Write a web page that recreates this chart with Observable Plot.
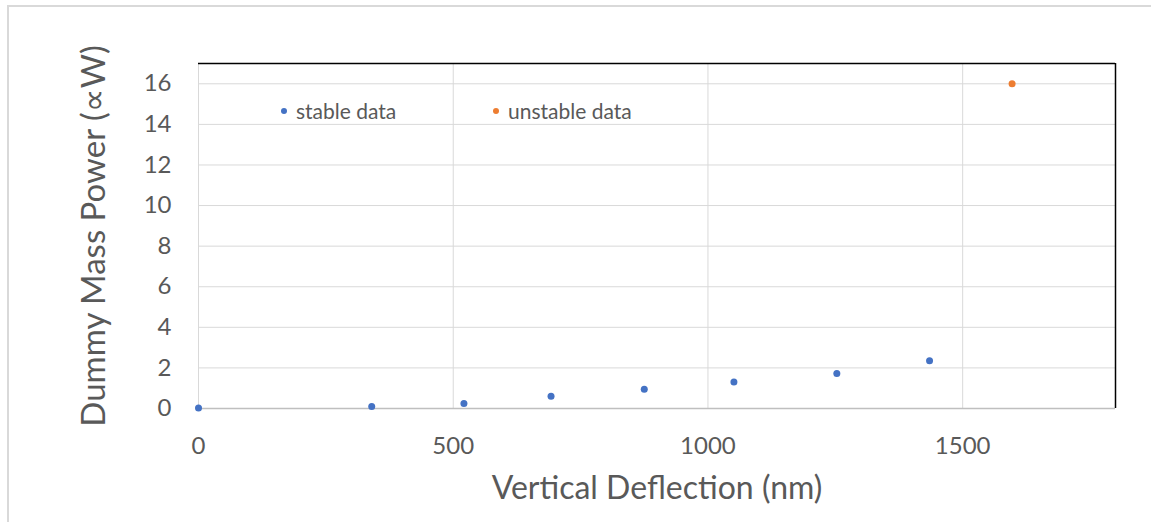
<!DOCTYPE html>
<html>
<head>
<meta charset="utf-8">
<script src="https://cdn.jsdelivr.net/npm/d3@7"></script>
<script src="https://cdn.jsdelivr.net/npm/@observablehq/plot@0.6"></script>
<style>
  html, body { margin: 0; padding: 0; background: #fff; }
  #wrap { position: relative; width: 1151px; height: 522px; overflow: hidden; font-family: Lato, "Open Sans", sans-serif; }
  #frame { position: absolute; left: 7px; top: 5px; width: 1200px; height: 600px; border-left: 2px solid #d9d9d9; border-top: 2px solid #d9d9d9; box-sizing: border-box; }
  #chart { position: absolute; left: 0; top: 0; }
  .legend { position: absolute; top: 98px; font-size: 21px; color: #595959; display: flex; align-items: center; }
  .legend .sw { width: 6px; height: 6px; border-radius: 50%; margin-right: 9px; }
</style>
</head>
<body>
<div id="wrap">
  <div id="frame"></div>
  <div id="chart"></div>
  <div class="legend" style="left:281px"><span class="sw" style="background:#4472C4"></span><span>stable data</span></div>
  <div class="legend" style="left:493px"><span class="sw" style="background:#ED7D31"></span><span>unstable data</span></div>
</div>
<script>
// Data
const stableDeflection = [0, 340, 521, 692, 875, 1051, 1253, 1435];
const stablePower      = [0.03, 0.1, 0.25, 0.6, 0.95, 1.3, 1.73, 2.35];
const unstableDeflection = [1597];
const unstablePower      = [16.0];
const xTicks = [0, 500, 1000, 1500];
const yTicks = [0, 2, 4, 6, 8, 10, 12, 14, 16];

const stable = stableDeflection.map((d, i) => ({x: d, y: stablePower[i]}));
const unstable = unstableDeflection.map((d, i) => ({x: d, y: unstablePower[i]}));

const chart = Plot.plot({
  width: 1151,
  height: 522,
  marginLeft: 198,
  marginRight: 36,
  marginTop: 63,
  marginBottom: 114,
  style: { fontFamily: "Lato, 'Open Sans', sans-serif", background: "transparent", overflow: "visible" },
  x: { domain: [0, 1800] },
  y: { domain: [0, 17] },
  marks: [
    Plot.gridX(xTicks.filter(d => d > 0), { stroke: "#d9d9d9", strokeOpacity: 1 }),
    Plot.gridY(yTicks.filter(d => d > 0), { stroke: "#d9d9d9", strokeOpacity: 1 }),
    Plot.ruleX([0], { stroke: "#d9d9d9" }),
    Plot.ruleY([0], { stroke: "#bfbfbf", strokeWidth: 1.5 }),
    Plot.ruleY([17], { stroke: "#000", strokeWidth: 1.5 }),
    Plot.ruleX([1800], { stroke: "#000", strokeWidth: 1.5 }),
    Plot.axisX({ ticks: xTicks, tickFormat: d => String(d), tickSize: 0, tickPadding: 28, fontSize: 24, color: "#595959", label: null }),
    Plot.axisY({ ticks: yTicks, tickFormat: d => String(d), tickSize: 0, tickPadding: 27, fontSize: 24, color: "#595959", label: null }),
    Plot.text(["Vertical Deflection (nm)"], { frameAnchor: "bottom", dy: 80, textAnchor: "middle", fontSize: 32, fill: "#595959", lineAnchor: "middle" }),
    Plot.text(["Dummy Mass Power (\u221DW)"], { frameAnchor: "left", dx: -104, textAnchor: "middle", rotate: -90, fontSize: 33, fill: "#595959", lineAnchor: "middle" }),
    Plot.dot(stable, { x: "x", y: "y", r: 3.5, fill: "#4472C4", stroke: null }),
    Plot.dot(unstable, { x: "x", y: "y", r: 3.5, fill: "#ED7D31", stroke: null })
  ]
});
document.getElementById("chart").appendChild(chart);
</script>
</body>
</html>
